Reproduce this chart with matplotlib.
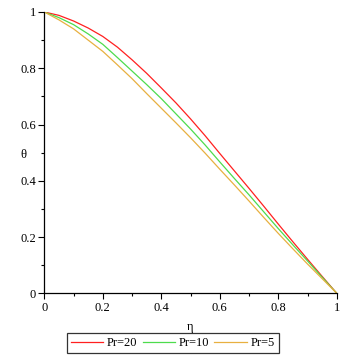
import matplotlib
matplotlib.use("Agg")
import matplotlib.pyplot as plt
from matplotlib.ticker import MultipleLocator

eta = [0.0, 0.05, 0.1, 0.15, 0.2, 0.25, 0.3, 0.35, 0.4, 0.45, 0.5,
       0.55, 0.6, 0.65, 0.7, 0.75, 0.8, 0.85, 0.9, 0.95, 1.0]
theta_pr20 = [1.0, 0.988, 0.968, 0.943, 0.913, 0.875, 0.83, 0.782, 0.73, 0.677, 0.62,
              0.56, 0.497, 0.435, 0.373, 0.31, 0.246, 0.183, 0.121, 0.06, 0.0]
theta_pr10 = [1.0, 0.98, 0.955, 0.922, 0.885, 0.838, 0.79, 0.742, 0.692, 0.638, 0.584,
              0.527, 0.467, 0.408, 0.35, 0.29, 0.23, 0.172, 0.115, 0.057, 0.0]
theta_pr5 = [1.0, 0.972, 0.94, 0.90, 0.86, 0.812, 0.763, 0.71, 0.658, 0.606, 0.553,
             0.498, 0.441, 0.385, 0.328, 0.27, 0.213, 0.158, 0.104, 0.052, 0.0]
labels = ["Pr=20", "Pr=10", "Pr=5"]
colors = ["#ff2020", "#4ddc4d", "#e8b040"]
tick_vals = [0, 0.2, 0.4, 0.6, 0.8, 1]
tick_labels = ["0", "0.2", "0.4", "0.6", "0.8", "1"]

plt.rcParams['font.family'] = ['Liberation Serif', 'DejaVu Serif']

fig = plt.figure(figsize=(3.49, 3.58), dpi=100)
ax = fig.add_axes([0.127, 0.1807, 0.838, 0.7858])

for y, lab, c in zip([theta_pr20, theta_pr10, theta_pr5], labels, colors):
    ax.plot(eta, y, color=c, lw=0.9, label=lab)

ax.set_xlim(0, 1)
ax.set_ylim(0, 1)
for s in ['top', 'right']:
    ax.spines[s].set_visible(False)
for s in ['left', 'bottom']:
    ax.spines[s].set_linewidth(0.9)

ax.set_xticks(tick_vals)
ax.set_xticklabels(tick_labels)
ax.set_yticks(tick_vals)
ax.set_yticklabels(tick_labels)
ax.xaxis.set_minor_locator(MultipleLocator(0.1))
ax.yaxis.set_minor_locator(MultipleLocator(0.1))
ax.tick_params(which='major', direction='out', length=4, width=0.8, labelsize=9, pad=2)
ax.tick_params(which='minor', direction='out', length=2.5, width=0.8)

ax.set_xlabel("η", fontsize=9, labelpad=5)
ax.set_ylabel("θ", fontsize=9, rotation=0, va='center', ha='center')
ax.yaxis.set_label_coords(-0.07, 0.49)

leg = fig.legend(loc='lower center', bbox_to_anchor=(0.495, 0.015), ncol=3,
                 fontsize=9, frameon=True, fancybox=False, edgecolor='black',
                 handlelength=2.6, handletextpad=0.3, columnspacing=0.4,
                 borderpad=0.3, borderaxespad=0)
leg.get_frame().set_linewidth(0.9)

fig.savefig("out.png", dpi=100)
